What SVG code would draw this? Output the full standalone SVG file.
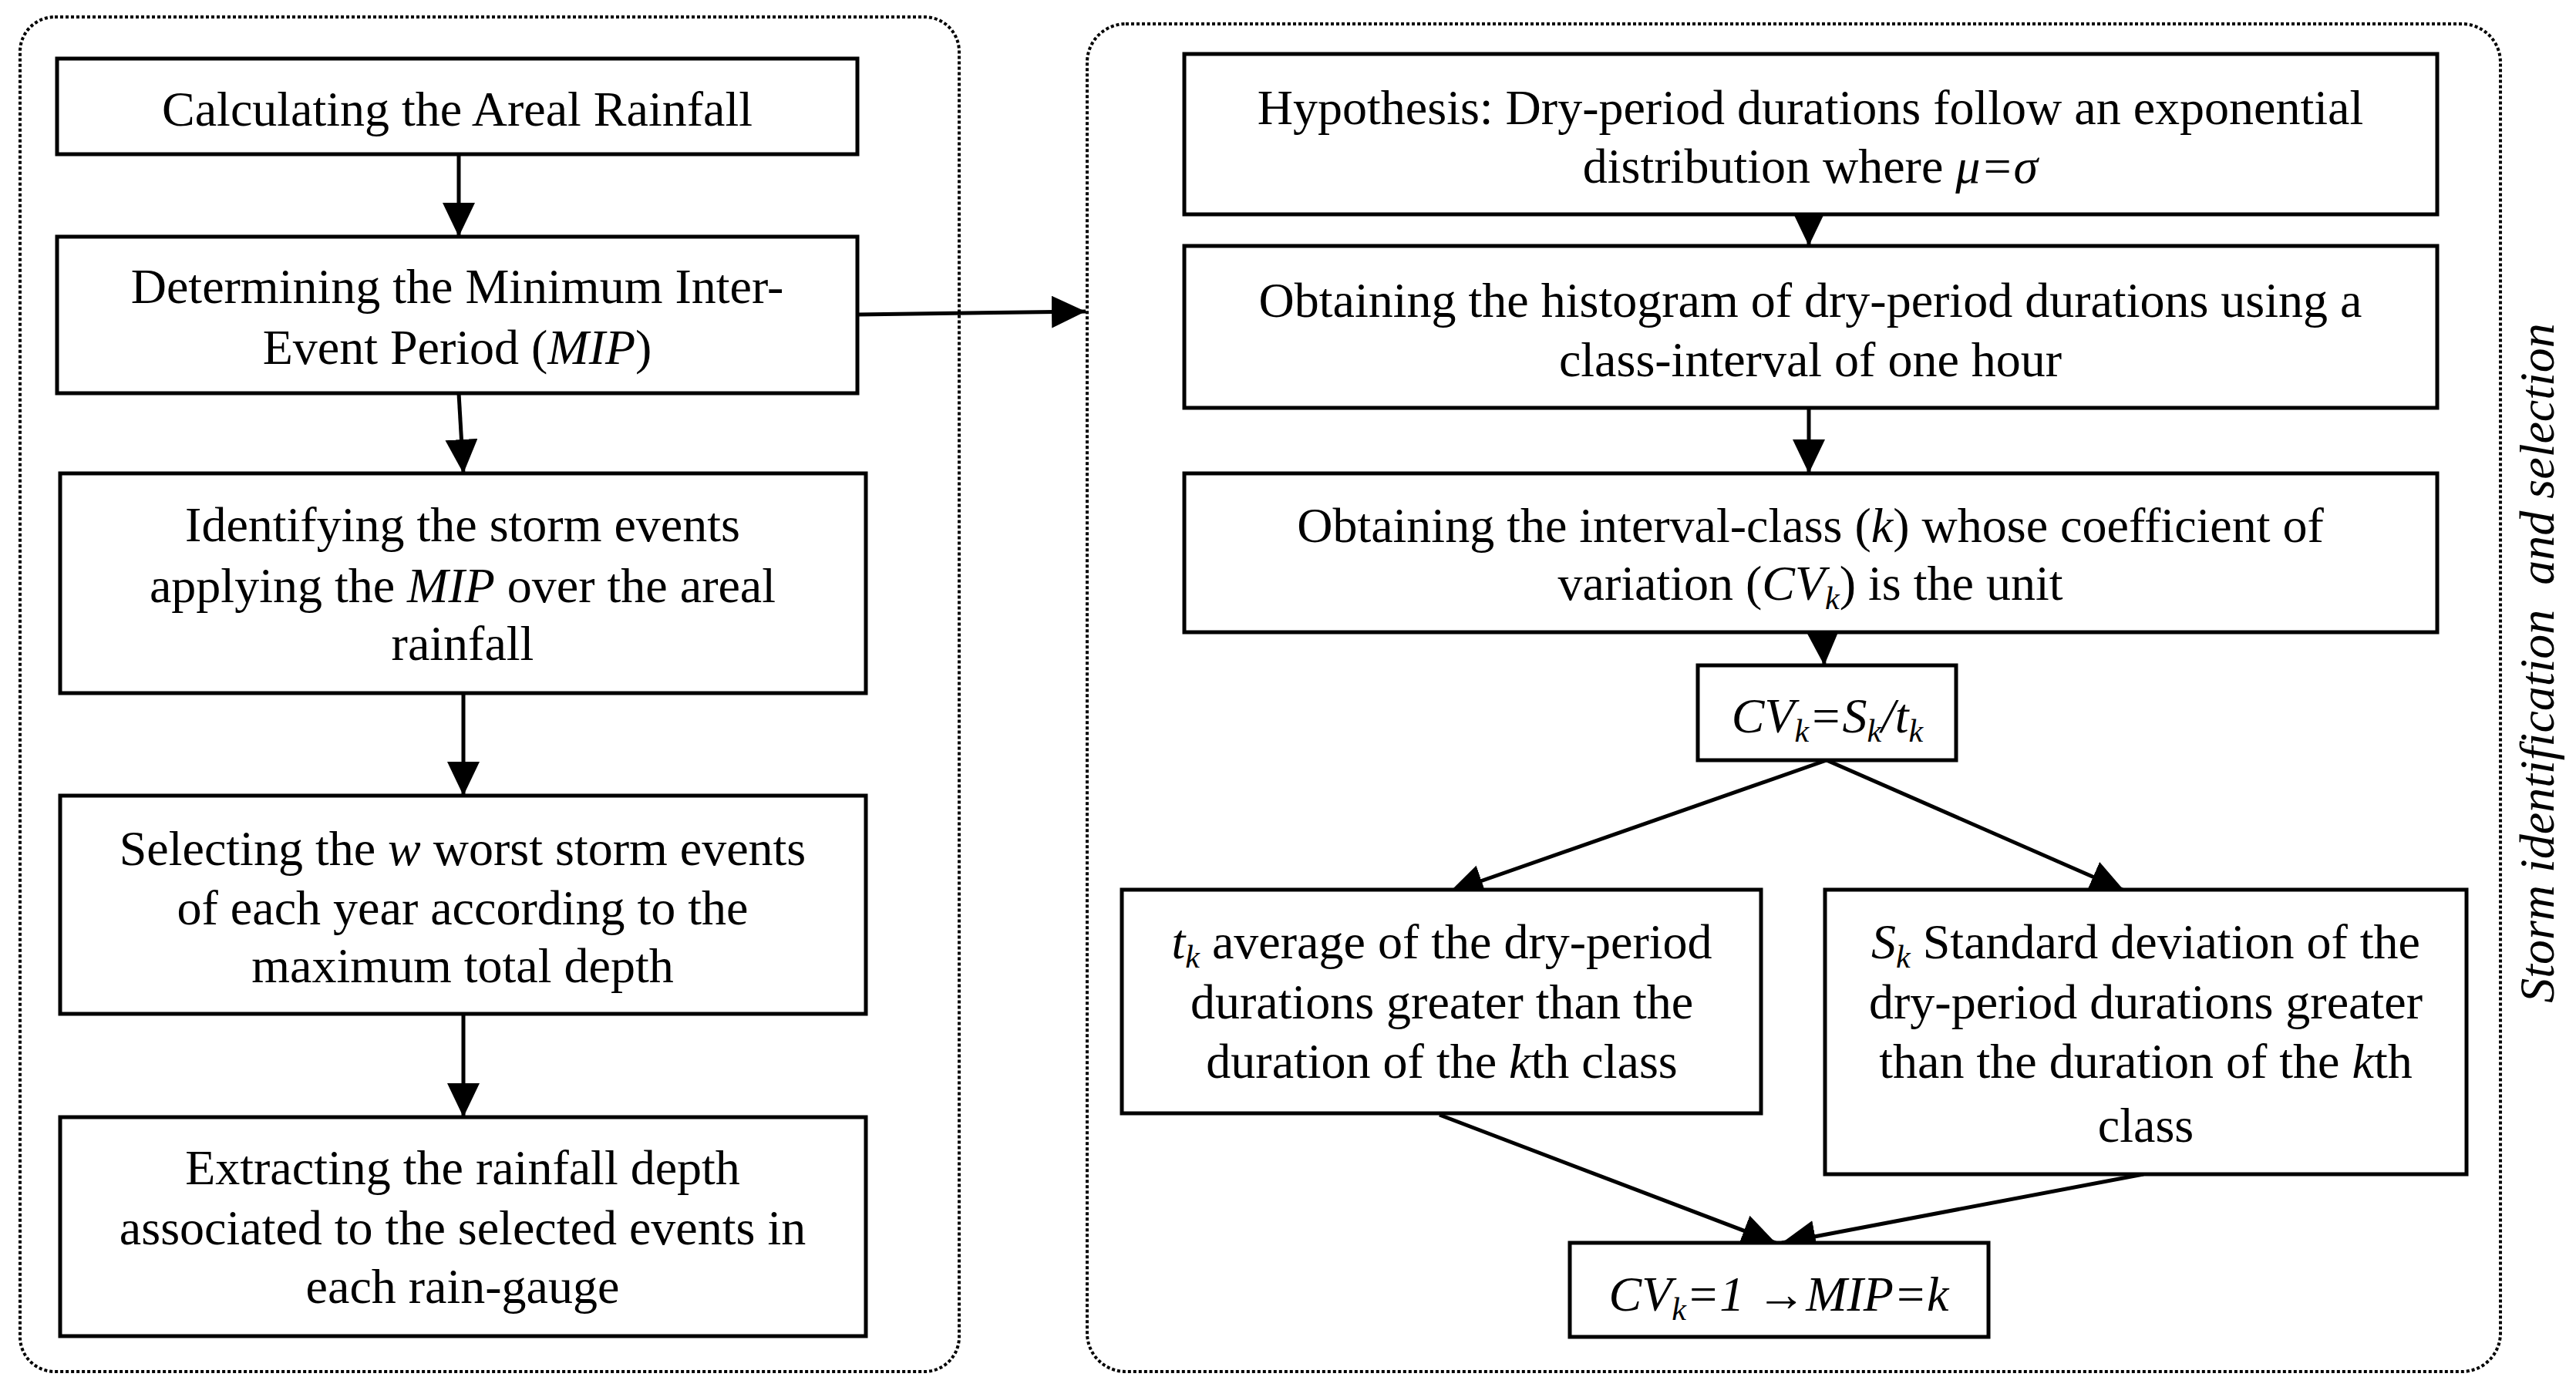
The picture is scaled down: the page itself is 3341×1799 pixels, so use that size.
<svg xmlns="http://www.w3.org/2000/svg" width="3341" height="1799" viewBox="0 0 3341 1799">
<style>
.box{fill:#fff;stroke:#000;stroke-width:5}
.cont{fill:none;stroke:#000;stroke-width:4;stroke-dasharray:4 3}
.t{font-family:"Liberation Serif","Times New Roman",serif;font-size:64px;fill:#000;text-anchor:middle}
.i{font-style:italic}
.c{stroke:#000;stroke-width:5;fill:none;marker-end:url(#ah)}
</style>
<defs>
<marker id="ah" markerUnits="userSpaceOnUse" markerWidth="46" markerHeight="44" refX="44" refY="21" orient="auto" viewBox="0 0 46 44">
<path d="M0,0 L44,21 L0,42 z" fill="#000"/>
</marker>
</defs>
<rect width="3341" height="1799" fill="#fff"/>
<g id="containers">
<rect id="left-panel" class="cont" x="26" y="22" width="1218" height="1757" rx="45"/>
<rect id="right-panel" class="cont" x="1410" y="31" width="1833" height="1748" rx="50"/>
</g>
<g id="connectors">
<line class="c" x1="595" y1="200" x2="595" y2="307"/>
<line class="c" x1="595" y1="510" x2="601" y2="614"/>
<line class="c" x1="601" y1="899" x2="601" y2="1032"/>
<line class="c" x1="601" y1="1315" x2="601" y2="1449"/>
<line class="c" x1="1112" y1="408" x2="1408" y2="404"/>
<line class="c" x1="2346" y1="278" x2="2346" y2="319"/>
<line class="c" x1="2346" y1="529" x2="2346" y2="614"/>
<line class="c" x1="2364" y1="820" x2="2366" y2="863"/>
<line class="c" x1="2369" y1="986" x2="1880" y2="1157"/>
<line class="c" x1="2369" y1="986" x2="2755" y2="1155"/>
<line class="c" x1="1867" y1="1446" x2="2303" y2="1612"/>
<line class="c" x1="2780" y1="1523" x2="2311" y2="1612"/>
</g>
<g id="n1"><rect class="box" x="74" y="76" width="1038" height="124"/>
<text class="t" x="593" y="163">Calculating the Areal Rainfall</text></g>
<g id="n2"><rect class="box" x="74" y="307" width="1038" height="203"/>
<text class="t" x="593" y="393">Determining the Minimum Inter-</text>
<text class="t" x="593" y="472">Event Period (<tspan class="i">MIP</tspan>)</text></g>
<g id="n3"><rect class="box" x="78" y="614" width="1045" height="285"/>
<text class="t" x="600" y="702">Identifying the storm events</text>
<text class="t" x="600" y="781">applying the <tspan class="i">MIP</tspan> over the areal</text>
<text class="t" x="600" y="856">rainfall</text></g>
<g id="n4"><rect class="box" x="78" y="1032" width="1045" height="283"/>
<text class="t" x="600" y="1122">Selecting the <tspan class="i">w</tspan> worst storm events</text>
<text class="t" x="600" y="1199">of each year according to the</text>
<text class="t" x="600" y="1274">maximum total depth</text></g>
<g id="n5"><rect class="box" x="78" y="1449" width="1045" height="284"/>
<text class="t" x="600" y="1536">Extracting the rainfall depth</text>
<text class="t" x="600" y="1614">associated to the selected events in</text>
<text class="t" x="600" y="1690">each rain-gauge</text></g>
<g id="r1"><rect class="box" x="1536" y="70" width="1625" height="208"/>
<text class="t" x="2348" y="161">Hypothesis: Dry-period durations follow an exponential</text>
<text class="t" x="2348" y="237">distribution where <tspan class="i">μ=σ</tspan></text></g>
<g id="r2"><rect class="box" x="1536" y="319" width="1625" height="210"/>
<text class="t" x="2348" y="411">Obtaining the histogram of dry-period durations using a</text>
<text class="t" x="2348" y="488">class-interval of one hour</text></g>
<g id="r3"><rect class="box" x="1536" y="614" width="1625" height="206"/>
<text class="t" x="2348" y="703">Obtaining the interval-class  (<tspan class="i">k</tspan>) whose coefficient of</text>
<text class="t" x="2348" y="778">variation (<tspan class="i">CV</tspan><tspan class="i" font-size="42" dy="12">k</tspan><tspan dy="-12">) is the unit</tspan></text></g>
<g id="cv"><rect class="box" x="2202" y="863" width="335" height="123"/>
<text class="t i" x="2370" y="950">CV<tspan font-size="42" dy="12">k</tspan><tspan dy="-12">=S</tspan><tspan font-size="42" dy="12">k</tspan><tspan dy="-12">/t</tspan><tspan font-size="42" dy="12">k</tspan></text></g>
<g id="tk"><rect class="box" x="1455" y="1154" width="829" height="290"/>
<text class="t" x="1870" y="1243"><tspan class="i">t</tspan><tspan class="i" font-size="42" dy="12">k</tspan><tspan dy="-12"> average of the dry-period</tspan></text>
<text class="t" x="1870" y="1321">durations greater than the</text>
<text class="t" x="1870" y="1398">duration of the <tspan class="i">k</tspan>th class</text></g>
<g id="sk"><rect class="box" x="2367" y="1154" width="832" height="369"/>
<text class="t" x="2783" y="1243"><tspan class="i">S</tspan><tspan class="i" font-size="42" dy="12">k</tspan><tspan dy="-12"> Standard deviation of the</tspan></text>
<text class="t" x="2783" y="1321">dry-period durations greater</text>
<text class="t" x="2783" y="1398">than the duration of the <tspan class="i">k</tspan>th</text>
<text class="t" x="2783" y="1481">class</text></g>
<g id="final"><rect class="box" x="2036" y="1612" width="543" height="122"/>
<text class="t" x="2307" y="1700"><tspan class="i">CV</tspan><tspan class="i" font-size="42" dy="12">k</tspan><tspan class="i" dy="-12">=1 </tspan>→<tspan class="i">MIP=k</tspan></text></g>
<g id="side-label">
<text class="t i" transform="translate(3312,860) rotate(-90)" x="0" y="0" style="white-space:pre">Storm identification  and selection</text>
</g>
</svg>
